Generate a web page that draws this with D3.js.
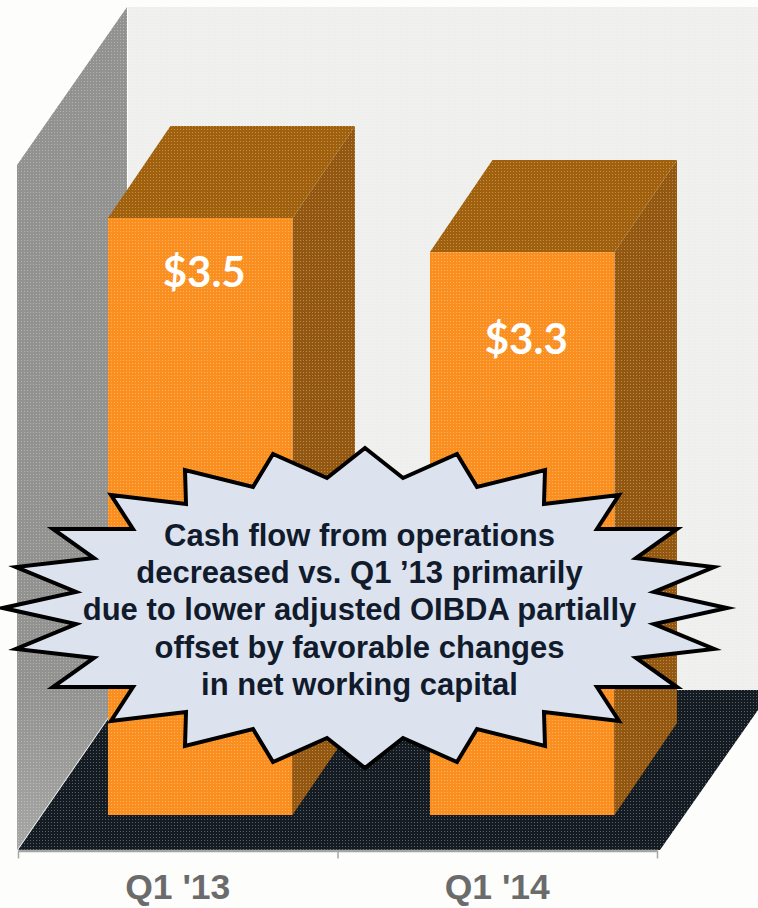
<!DOCTYPE html>
<html>
<head>
<meta charset="utf-8">
<script src="https://cdn.jsdelivr.net/npm/d3@7/dist/d3.min.js"></script>
<style>
html,body{margin:0;padding:0;background:#fdfdfc;overflow:hidden}
svg{display:block}
</style>
</head>
<body>
<svg id="chart" width="758" height="908"></svg>
<script>
const categories = ["Q1 '13", "Q1 '14"];
const values = [3.5, 3.3];
const valueLabels = ["$3.5", "$3.3"];
const calloutLines = [
  "Cash flow from operations",
  "decreased vs. Q1 ’13 primarily",
  "due to lower adjusted OIBDA partially",
  "offset by favorable changes",
  "in net working capital"
];

const W = 758, H = 908;
const svg = d3.select("#chart");
const defs = svg.append("defs");

// scales
const axisX0 = 18, axisX1 = 657, axisY = 850;
const y = d3.scaleLinear().domain([0, 3.5]).range([815, 218]);
const labelY = d3.scaleLinear().domain([3.3, 3.5]).range([354, 287]);
const xAxisBand = d3.scaleBand().domain(categories).range([axisX0, axisX1]);
const xBars = d3.scaleBand().domain(categories).range([axisX0, axisX1])
  .paddingInner(0.427).paddingOuter(0.2057).align(0.679);
const xEdges = d3.scaleLinear().domain([0, categories.length]).range([axisX0, axisX1]);

// 3D depth of room and bars
const roomDepth = [110, -160], barDepth = [62.5, -92];
const wallTopFront = 165;

const poly = pts => "M" + pts.map(p => p.join(",")).join("L") + "Z";

const room = svg.append("g");
// back wall
room.append("path")
  .attr("d", poly([
    [axisX0 + roomDepth[0], wallTopFront + roomDepth[1] + 2],
    [W, wallTopFront + roomDepth[1] + 2],
    [W, axisY + roomDepth[1]],
    [axisX0 + roomDepth[0], axisY + roomDepth[1]]
  ])).attr("fill", "#eff0ed");
// left wall
const wallGrad = defs.append("linearGradient")
  .attr("id", "wall").attr("x1", 0).attr("y1", 0).attr("x2", 0).attr("y2", 1);
wallGrad.append("stop").attr("offset", "0").attr("stop-color", "#929391");
wallGrad.append("stop").attr("offset", "0.8").attr("stop-color", "#929391");
wallGrad.append("stop").attr("offset", "1").attr("stop-color", "#a6a6a5");
room.append("path")
  .attr("d", poly([
    [axisX0 - 1, wallTopFront],
    [axisX0 + roomDepth[0] - 1, wallTopFront + roomDepth[1] + 2],
    [axisX0 + roomDepth[0] - 1, axisY + roomDepth[1]],
    [axisX0 - 1, axisY]
  ])).attr("fill", "url(#wall)");
// floor
room.append("path")
  .attr("d", poly([
    [axisX0, axisY],
    [axisX0 + roomDepth[0], axisY + roomDepth[1]],
    [axisX1 + roomDepth[0] + 5, axisY + roomDepth[1]],
    [axisX1 + 3, axisY]
  ])).attr("fill", "#141b22");

// bars
const bars = svg.append("g").selectAll("g")
  .data(categories.map((c, i) => ({c, v: values[i], label: valueLabels[i]})))
  .join("g");
bars.append("path").attr("fill", "#945710")
  .attr("d", d => {
    const r = xBars(d.c) + xBars.bandwidth();
    return poly([[r, y(d.v)], [r + barDepth[0], y(d.v) + barDepth[1]],
                 [r + barDepth[0], y(0) + barDepth[1]], [r, y(0)]]);
  });
bars.append("path").attr("fill", "#a1600c")
  .attr("d", d => {
    const l = xBars(d.c), r = l + xBars.bandwidth();
    return poly([[l, y(d.v)], [r, y(d.v)],
                 [r + barDepth[0], y(d.v) + barDepth[1]], [l + barDepth[0], y(d.v) + barDepth[1]]]);
  });
bars.append("rect").attr("fill", "#fa8f20")
  .attr("x", d => xBars(d.c)).attr("width", xBars.bandwidth())
  .attr("y", d => y(d.v)).attr("height", d => y(0) - y(d.v));

// print halftone: faint light dots on the 3-D surfaces
const dots = defs.append("pattern").attr("id", "dots")
  .attr("patternUnits", "userSpaceOnUse").attr("width", 3).attr("height", 3);
dots.append("rect").attr("width", 1).attr("height", 1).attr("fill", "#fff").attr("fill-opacity", 0.3);
svg.append("rect").attr("width", W).attr("height", H).attr("fill", "url(#dots)");

svg.append("g").selectAll("text")
  .data(bars.data())
  .join("text")
  .text(d => d.label)
  .attr("x", d => xBars(d.c) + xBars.bandwidth() / 2 + 4)
  .attr("y", d => labelY(d.v))
  .attr("text-anchor", "middle")
  .attr("fill", "#fff")
  .style("font", "700 42px Lato, sans-serif");

// axis: ticks at the category edges, labels centred in each category
const tickAxis = d3.axisBottom(xEdges).tickValues(d3.range(categories.length + 1))
  .tickFormat("").tickSize(8).tickSizeOuter(0);
const gTicks = svg.append("g").attr("transform", `translate(0,${axisY + 0.5})`).call(tickAxis);
gTicks.selectAll("path").attr("stroke", "#a4a5a4").attr("stroke-width", 2.5);
gTicks.selectAll("line").attr("stroke", "#a4a5a4").attr("stroke-width", 1.5);

const labelAxis = d3.axisBottom(xAxisBand).tickSize(0).tickPadding(24);
const gLabels = svg.append("g").attr("transform", `translate(0,${axisY})`).call(labelAxis);
gLabels.select(".domain").remove();
gLabels.selectAll("text")
  .attr("fill", "#6b6b6b")
  .style("font", "700 35.5px 'Liberation Sans', Arial, sans-serif");

// callout burst: half-widths/half-heights of the upper-right quadrant, mirrored
const cx = 365, cy = 608;
const quadrant = [
  [0, -160], [38, -130], [92, -154], [112, -121], [180, -138], [179, -104],
  [254, -113], [232, -79], [312, -79], [271, -50], [349, -41], [289, -16], [362, 0]
];
const right = quadrant.concat(quadrant.slice(0, -1).reverse().map(([a, b]) => [a, -b]));
const left = right.slice(1, -1).reverse().map(([a, b]) => [-a, b]);
const burst = right.concat(left).map(([a, b]) => [cx + a, cy + b]);
svg.append("path")
  .attr("d", poly(burst))
  .attr("fill", "#dce3ef")
  .attr("stroke", "#000")
  .attr("stroke-width", 4)
  .attr("stroke-linejoin", "miter")
  .attr("stroke-miterlimit", 10);

svg.append("g").selectAll("text")
  .data(calloutLines)
  .join("text")
  .text(d => d)
  .attr("x", 359.5)
  .attr("y", (d, i) => 546 + i * 37.2)
  .attr("text-anchor", "middle")
  .attr("fill", "#111b2c")
  .style("font", "700 31px 'Liberation Sans', Arial, sans-serif");
</script>
</body>
</html>
